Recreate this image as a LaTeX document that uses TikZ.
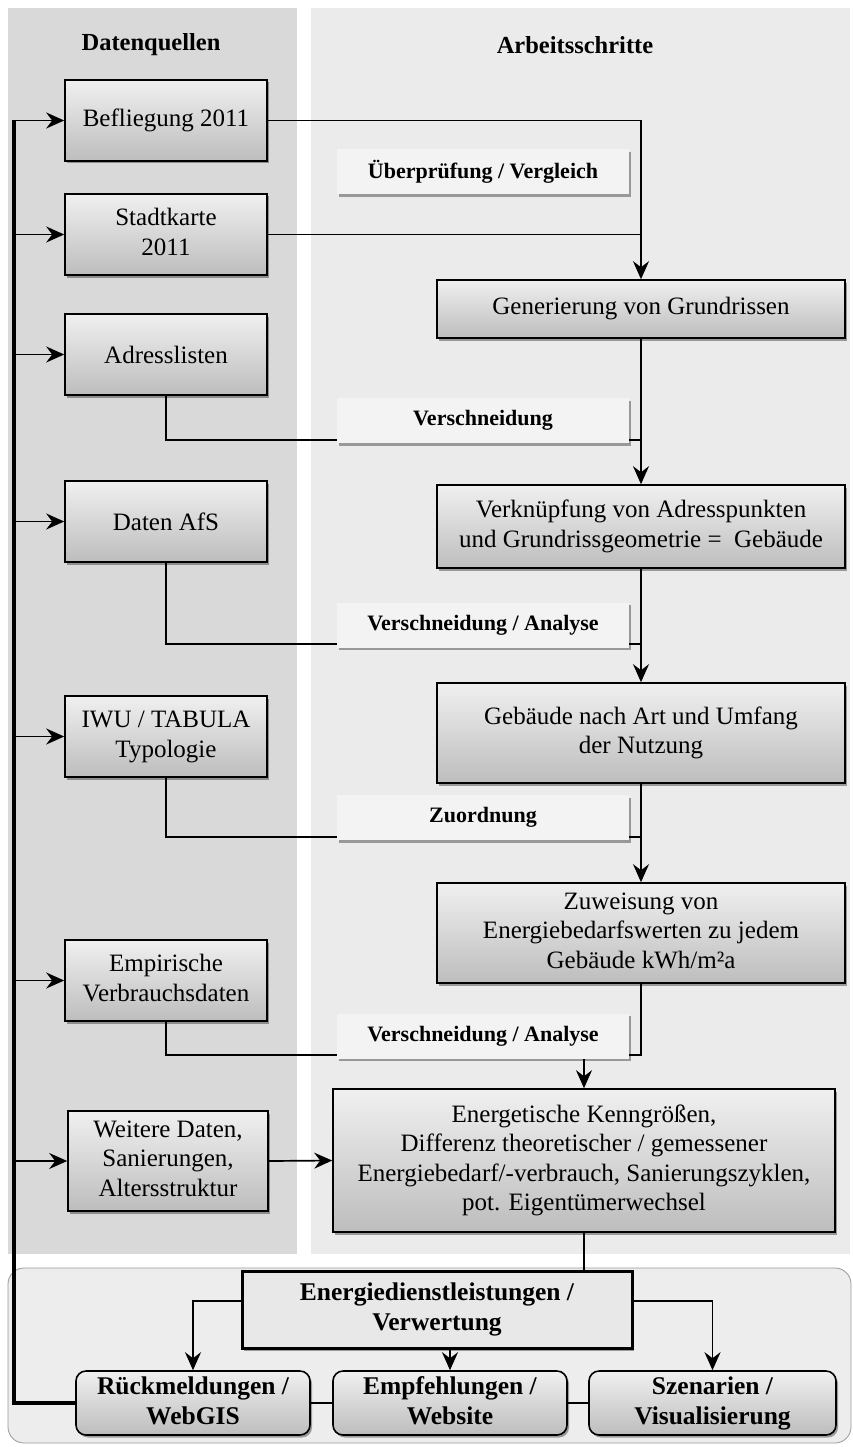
\documentclass[tikz,border=0pt]{standalone}
\usepackage{fontspec}
\setmainfont{Liberation Serif}
\usetikzlibrary{arrows.meta,shadows,calc}
\newcommand\ftn{\fontsize{25}{29.5}\selectfont}
\newcommand\flab{\fontsize{22}{26}\selectfont\bfseries}
\newcommand\fbot{\fontsize{25.5}{30}\selectfont\bfseries}
\definecolor{panL}{HTML}{D9D9D9}
\definecolor{panR}{HTML}{EBEBEB}
\definecolor{panB}{HTML}{EDEDED}
\definecolor{labfill}{HTML}{F3F3F3}
\definecolor{boxtop}{HTML}{F0F0F0}
\definecolor{boxbot}{HTML}{BDBDBD}
\begin{document}
\begin{tikzpicture}[x=1pt,y=-1pt,
  shad/.style={drop shadow={shadow xshift=2pt,shadow yshift=-2.5pt,opacity=0.35,fill=black}},
  gbox/.style={draw=black,line width=1.6pt,top color=boxtop,bottom color=boxbot,shad,align=center,font=\ftn,inner sep=2pt},
  src/.style={gbox,minimum width=202pt,minimum height=81pt},
  wrk/.style={gbox,minimum width=408pt},
  lab/.style={fill=labfill,shad,minimum width=292pt,minimum height=45pt,font=\flab,inner sep=0pt},
  hdr/.style={font=\fontsize{24.5}{29}\selectfont\bfseries},
  bbox/.style={gbox,rounded corners=10pt,minimum width=234pt,minimum height=64pt,font=\fbot},
  con/.style={line width=1.7pt,draw=black},
  arr/.style={con,-{Stealth[length=18pt,width=16pt,inset=6pt]}},
  thick line/.style={line width=3.5pt,draw=black}
]
\useasboundingbox (0,0) rectangle (853,1447);
\fill[white] (0,0) rectangle (853,1447);
% panels
\fill[panL] (8,8) rectangle (297,1254);
\fill[panR] (311,8) rectangle (850,1254);
\draw[fill=panB,draw=black!40,line width=0.8pt,rounded corners=16pt] (8,1268) rectangle (851,1443);

% headers
\node[hdr] (h1) at (151,45) {Datenquellen};
\node[hdr] (h2) at (575,45) {Arbeitsschritte};

% source boxes
\node[src] (bef) at (166,120.5) {Befliegung 2011};
\node[src] (stadt) at (166,234.5) {Stadtkarte\strut\\2011\strut};
\node[src] (adr) at (166,354.5) {Adresslisten};
\node[src] (afs) at (166,521.5) {Daten AfS};
\node[src] (iwu) at (166,736.5) {IWU / TABULA\strut\\Typologie\strut};
\node[src] (emp) at (166,980.5) {Empirische\strut\\Verbrauchsdaten\strut};
\node[gbox,minimum width=200pt,minimum height=100pt] (weit) at (168,1161) {Weitere Daten,\strut\\Sanierungen,\strut\\Altersstruktur\strut};

% work boxes
\node[wrk,minimum height=58pt] (gen) at (641,309) {Generierung von Grundrissen};
\node[wrk,minimum height=83pt] (verk) at (641,526.5) {Verknüpfung von Adresspunkten\strut\\und Grundrissgeometrie =\ \ Gebäude\strut};
\node[wrk,minimum height=100pt] (geb) at (641,733) {Gebäude nach Art und Umfang\strut\\der Nutzung\strut};
\node[wrk,minimum height=100pt] (zuw) at (641,933) {Zuweisung von\strut\\Energiebedarfswerten zu jedem\strut\\Gebäude kWh/m²a\strut};
\node[gbox,minimum width=502pt,minimum height=143pt] (ener) at (584,1160.5) {Energetische Kenngrößen,\strut\\Differenz theoretischer / gemessener\strut\\Energiebedarf/-verbrauch, Sanierungszyklen,\strut\\pot. Eigentümerwechsel\strut};

% bottom boxes
\node[draw=black,line width=3pt,fill=black!9,shad,minimum width=390pt,minimum height=77pt,align=center,font=\fbot] (edl) at (437,1309.5) {Energiedienstleistungen /\strut\\Verwertung\strut};
\node[bbox] (rm) at (193,1403) {Rückmeldungen /\strut\\WebGIS\strut};
\node[bbox] (ew) at (450,1403) {Empfehlungen /\strut\\Website\strut};
\node[bbox,minimum width=247pt] (sz) at (712.5,1403) {Szenarien /\strut\\Visualisierung\strut};

% junction coordinates
\coordinate (j1) at (641,440);
\coordinate (j2) at (641,644);
\coordinate (j3) at (641,837);
\coordinate (j4) at (641,1055);
\coordinate (j5) at (584,1055);
\coordinate (lt) at (14,120.5);
\coordinate (lb) at (14,1403);

% connectors top flow
\draw[arr] (bef.east) -| (gen.north);
\draw[con] (stadt.east) -- (stadt.east -| gen.north);
\draw[arr] (gen.south) -- (verk.north);
\draw[con] (adr.south) |- (j1);
\draw[arr] (verk.south) -- (geb.north);
\draw[con] (afs.south) |- (j2);
\draw[arr] (geb.south) -- (zuw.north);
\draw[con] (iwu.south) |- (j3);
\draw[con] (zuw.south) -- (j4) -- (j5);
\draw[arr] (j5) -- (ener.north);
\draw[con] (emp.south) |- (j4);
\draw[arr] (weit.east) -- (ener.west);
\draw[con] (ener.south) -- (ener.south |- edl.north);

% left feedback line
\draw[thick line] (rm.west) -- (lb) -- (lt);
\foreach \n in {bef,stadt,adr,afs,iwu,emp,weit}{
  \draw[arr] (lt |- \n.west) -- (\n.west);
}

% bottom connectors
\draw[arr] (edl.west |- 0,1301) -| (rm.north);
\draw[arr] (edl.east |- 0,1301) -| (sz.north);
\draw[arr] (edl.south -| ew.north) -- (ew.north);
\draw[con] (rm.east) -- (ew.west);
\draw[con] (ew.east) -- (sz.west);

% labels on top of lines
\node[lab] (l1) at (483,172) {Überprüfung / Vergleich};
\node[lab] (l2) at (483,420.5) {Verschneidung};
\node[lab] (l3) at (483,625) {Verschneidung / Analyse};
\node[lab] (l4) at (483,817.5) {Zuordnung};
\node[lab] (l5) at (483,1036) {Verschneidung / Analyse};
\end{tikzpicture}
\end{document}
